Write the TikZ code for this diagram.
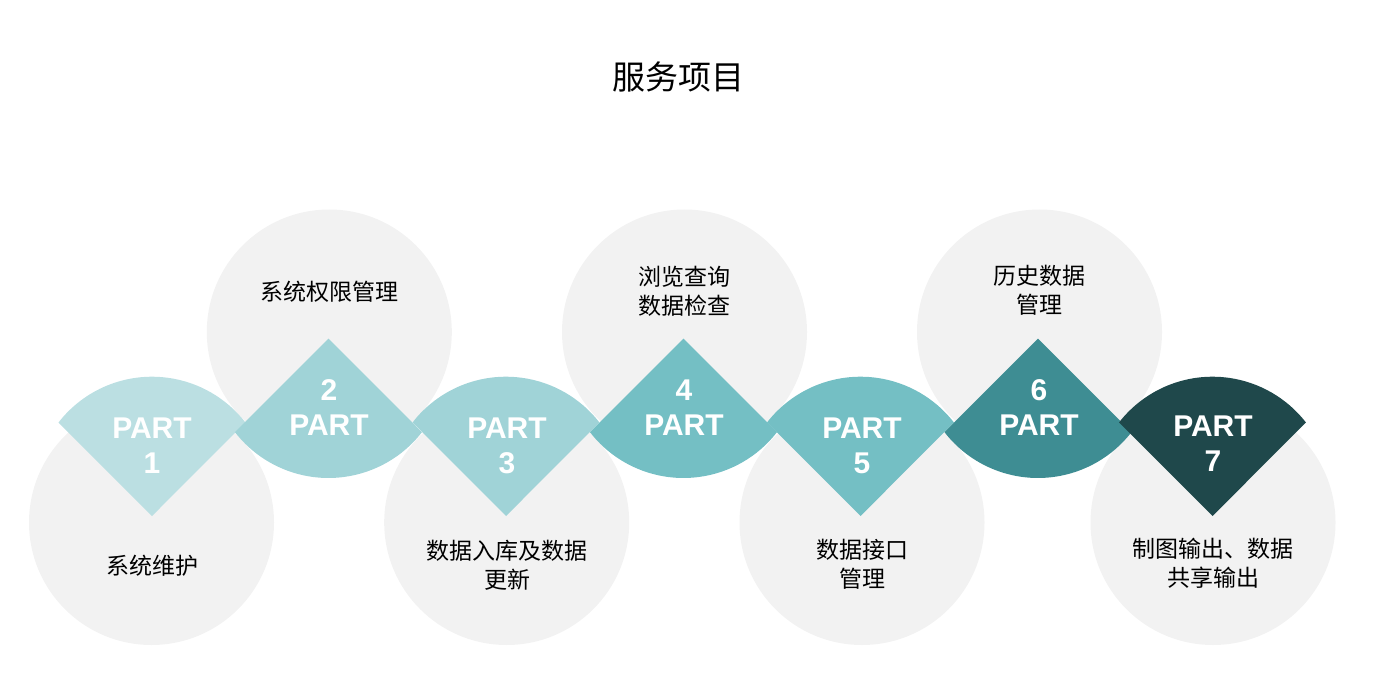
\documentclass[tikz,border=0pt]{standalone}
\usepackage{fontspec}
\newfontfamily\cjk{Noto Sans CJK SC}
\newfontfamily\partfont{Liberation Sans}
\definecolor{bgc}{HTML}{F2F2F2}
\definecolor{sA}{HTML}{BBDFE2}
\definecolor{sB}{HTML}{A0D3D7}
\definecolor{sC}{HTML}{74BFC4}
\definecolor{sD}{HTML}{3E8D93}
\definecolor{sE}{HTML}{1F484B}
\newcommand\downsector[2]{\fill[#2] (#1,181) -- (#1-93.5,274.5) arc[start angle=142.2, end angle=37.8, radius=118.3] -- cycle;}
\newcommand\upsector[2]{\fill[#2] (#1,358.3) -- (#1-93.5,264.8) arc[start angle=217.8, end angle=322.2, radius=118.3] -- cycle;}
\begin{document}
\begin{tikzpicture}[x=1pt,y=1pt,
  bubble/.style={circle, fill=bgc, draw=none, minimum size=245pt, inner sep=0pt},
  lbl/.style={font=\cjk\fontsize{23}{29}\selectfont, align=center, text=black},
  parttext/.style={font=\partfont\bfseries\fontsize{30}{35}\selectfont, align=center, text=white}]
\useasboundingbox (0,0) rectangle (1375,697);
\node[font=\cjk\fontsize{33}{40}\selectfont] (title) at (678,620) {服务项目};
% background circles
\node[bubble] (c1) at (151.5,174.5) {};
\node[bubble] (c2) at (329.3,365) {};
\node[bubble] (c3) at (506.7,174.5) {};
\node[bubble] (c4) at (684.5,365) {};
\node[bubble] (c5) at (862,174.5) {};
\node[bubble] (c6) at (1039.5,365) {};
\node[bubble] (c7) at (1213,174.5) {};
% sectors
\downsector{152}{sA}
\upsector{328.5}{sB}
\downsector{506}{sB}
\upsector{683.5}{sC}
\downsector{860.5}{sC}
\upsector{1038}{sD}
\downsector{1212.5}{sE}
% part labels
\node[parttext] (p1) at (152,251) {PART\\1};
\node[parttext] (p2) at (329,289.5) {2\\PART};
\node[parttext] (p3) at (507,251) {PART\\3};
\node[parttext] (p4) at (684,289.5) {4\\PART};
\node[parttext] (p5) at (862,251) {PART\\5};
\node[parttext] (p6) at (1039,289.5) {6\\PART};
\node[parttext] (p7) at (1213,253) {PART\\7};
% texts
\node[lbl] (t1) at (152,131) {系统维护};
\node[lbl] (t2) at (329,405) {系统权限管理};
\node[lbl] (t3) at (507,131.5) {数据入库及数据\\更新};
\node[lbl] (t4) at (684,405.5) {浏览查询\\数据检查};
\node[lbl] (t5) at (862,132.5) {数据接口\\管理};
\node[lbl] (t6) at (1039,407) {历史数据\\管理};
\node[lbl] (t7) at (1213,134) {制图输出、数据\\共享输出};
\end{tikzpicture}
\end{document}
